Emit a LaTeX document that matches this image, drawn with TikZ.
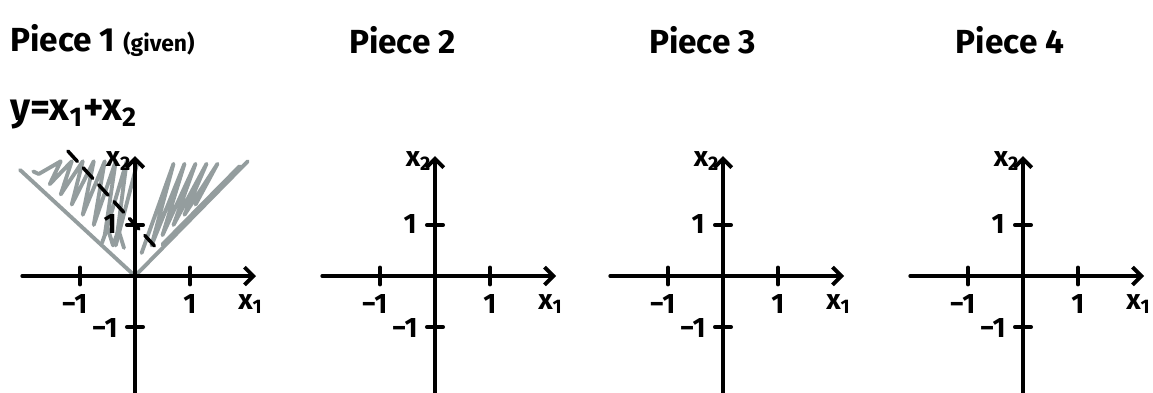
\documentclass[tikz,border=0pt]{standalone}
\usepackage{fontspec}
\setmainfont{Fira Sans}
\usetikzlibrary{arrows.meta}
\definecolor{scribble}{RGB}{148,157,158}
\newcommand{\xs}[1]{x\textsubscript{#1}}
\begin{document}
\begin{tikzpicture}[line join=round, line cap=round, >={Straight Barb[length=5pt,width=10pt]},
  axis/.style={line width=2.2pt},
  tickmark/.style={line width=2pt},
  lbl/.style={font=\fontsize{16}{18}\selectfont\bfseries, inner sep=1pt},
  title/.style={font=\fontsize{19}{22}\selectfont\bfseries, inner sep=0pt},
  shade/.style={scribble, line width=2.2pt}]
\useasboundingbox (0,0) rectangle (23.06,7.84);
% titles
\node[title, anchor=west] (t1) at (0.2,7.04) {Piece 1 {\fontsize{13}{15}\selectfont(given)}};
\node[title] (t2) at (8.05,7.04) {Piece 2};
\node[title] (t3) at (14.05,7.04) {Piece 3};
\node[title] (t4) at (20.2,7.04) {Piece 4};
\node[title, anchor=west, font=\fontsize{22}{26}\selectfont\bfseries] (eq) at (0.2,5.55) {y=\xs{1}+\xs{2}};
% given piece: region x2 >= |x1|
\begin{scope}[shift={(2.70,2.32)}, x=1.1cm, y=1.02cm]
\draw[shade] (-2.09,2.08) -- (0,0) -- (2.05,2.25);
\draw[shade] (0.5,0.62) -- (1.9,2.15);
\draw[shade] (-1.85,2.05) \foreach \t in {-1.75,-1.55,...,-0.35} { -- (\t,{-\t+0.25}) -- ({\t+0.4},2.25) };
\draw[shade] (-0.6,0.65) -- (-0.5,0.95) -- (-0.4,0.6) -- (-0.3,0.9) -- (-0.2,0.55);
\draw[shade] (0.12,0.45) \foreach \t in {0.3,0.5,...,1.1} { -- ({\t+0.4},2.2) -- (\t,{\t+0.3}) };
\draw[line width=2pt, dash pattern=on 8pt off 5pt] (-1.22,2.45) -- (0.42,0.51);
\end{scope}
% axes
\foreach \i/\ox in {1/2.70, 2/8.70, 3/14.46, 4/20.46} {
\begin{scope}[shift={(\ox,2.32)}, x=1.1cm, y=1.02cm]
\draw[axis,->] (-2.05,0) -- (2.2,0);
\draw[axis,->] (0,-2.35) -- (0,2.35);
\draw[tickmark] (-1,-0.17) -- (-1,0.17) (1,-0.17) -- (1,0.17);
\draw[tickmark] (-0.15,1) -- (0.15,1) (-0.15,-1) -- (0.15,-1);
\node[lbl] (xm\i) at (-1.1,-0.55) {−1};
\node[lbl] (xp\i) at (1,-0.55) {1};
\node[lbl] (yp\i) at (-0.45,1.02) {1};
\node[lbl] (ym\i) at (-0.55,-1.02) {−1};
\node[lbl] (xa\i) at (2.1,-0.55) {\xs{1}};
\node[lbl] (ya\i) at (-0.3,2.25) {\xs{2}};
\end{scope}
}
\end{tikzpicture}
\end{document}
